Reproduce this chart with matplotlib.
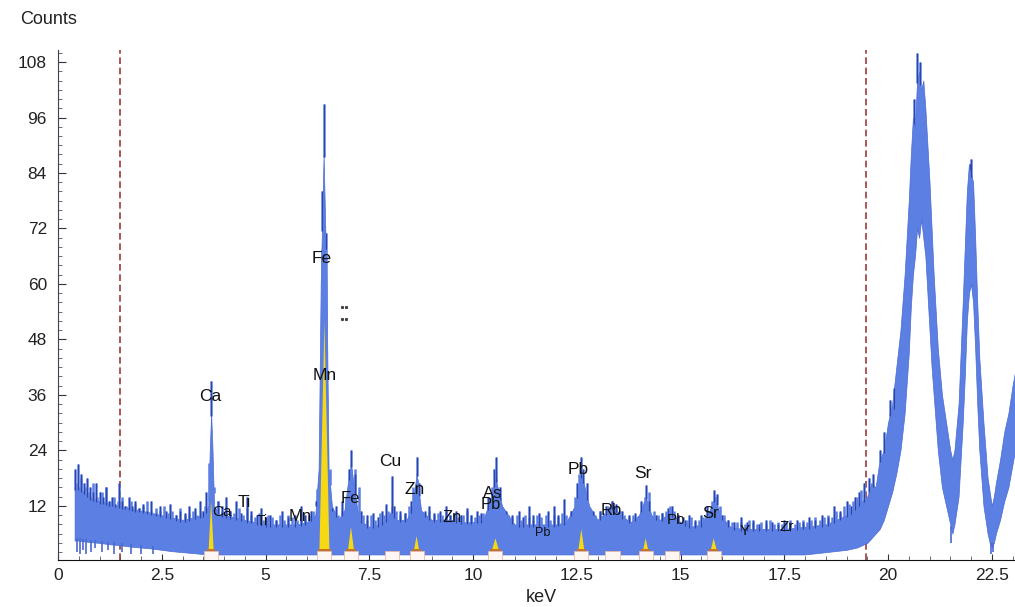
import matplotlib
matplotlib.use("Agg")
import matplotlib.pyplot as plt
import numpy as np
from matplotlib.ticker import MultipleLocator, FuncFormatter

plt.rcParams['font.family'] = ['Liberation Sans', 'DejaVu Sans']

# ---- spectrum band: energy grid with the top and bottom of the noisy trace ----
band_keV = [0.40, 0.50, 0.75, 1.00, 1.25, 1.50, 1.75, 2.00, 2.25, 2.50, 2.75, 3.00, 3.25, 3.50,
            3.62, 3.66, 3.69, 3.72, 3.76, 3.90, 4.00, 4.25, 4.50, 4.75, 5.00, 5.25, 5.50, 5.75,
            6.00, 6.20, 6.28, 6.33, 6.40, 6.47, 6.52, 6.60, 6.75, 6.90, 7.00, 7.06, 7.12, 7.25,
            7.50, 7.75, 7.90, 8.04, 8.15, 8.40, 8.55, 8.64, 8.75, 9.00, 9.25, 9.50, 9.75, 10.00,
            10.25, 10.40, 10.54, 10.70, 11.00, 11.25, 11.50, 11.75, 12.00, 12.25, 12.45, 12.61,
            12.80, 13.00, 13.25, 13.39, 13.55, 13.80, 14.00, 14.16, 14.30, 14.50, 14.76, 15.00,
            15.25, 15.50, 15.70, 15.83, 15.95, 16.20, 16.50, 17.00, 17.50, 18.00, 18.50, 19.00,
            19.25, 19.50, 19.60, 19.70, 19.80, 19.90, 20.00, 20.10, 20.20, 20.30, 20.40, 20.50,
            20.55, 20.60, 20.65, 20.70, 20.75, 20.80, 20.85, 20.90, 20.95, 21.00, 21.05, 21.10,
            21.20, 21.30, 21.40, 21.50, 21.55, 21.60, 21.70, 21.80, 21.85, 21.90, 21.95, 22.00,
            22.05, 22.10, 22.15, 22.20, 22.30, 22.40, 22.45, 22.50, 22.55, 22.60, 22.70, 22.80,
            22.90, 23.00, 23.10]
band_top = [16, 16, 14, 13, 12.5, 12, 11.5, 11, 10.5, 10, 9.5, 9, 9.5, 10,
            12, 25, 32, 25, 12, 10, 10, 9.5, 9, 8.5, 8, 8, 8, 8,
            8.5, 10, 20, 60, 88, 60, 20, 12, 9, 11, 18, 21, 17, 9,
            7.5, 8, 9, 11, 9, 9, 12, 19, 11, 9, 9, 9, 8.5, 8.5,
            9, 13, 18, 12, 8, 8, 8, 8, 8, 8.5, 12, 19,
            12, 9, 11, 12, 10, 8.5, 10, 14, 10, 9, 10.5, 8.5,
            7.5, 8, 11, 14, 10, 7.5, 7, 7, 7, 7.5, 8, 10,
            12, 14, 17, 16, 22, 24, 30, 34, 42, 50, 62, 78,
            88, 96, 94, 104, 106, 102, 104, 98, 90, 82, 72, 62,
            46, 36, 30, 24, 22, 24, 34, 56, 68, 80, 86, 84,
            82, 70, 56, 44, 30, 18, 15, 12, 14, 17, 22, 28,
            32, 38, 43]
band_bottom = [4.5, 4.5, 4.2, 4, 3.7, 3.5, 3.2, 3, 2.8, 2.5, 2.2, 2, 1.8, 1.6,
               1.5, 1.5, 1.5, 1.5, 1.5, 1.5, 1.5, 1.5, 1.5, 1.5, 1.5, 1.5, 1.5, 1.5,
               1.5, 1.5, 1.5, 1.5, 1.5, 1.5, 1.5, 1.5, 1.5, 1.5, 1.5, 1.5, 1.5, 1.5,
               1.5, 1.5, 1.5, 1.5, 1.5, 1.5, 1.5, 1.5, 1.5, 1.5, 1.5, 1.5, 1.5, 1.5,
               1.5, 1.5, 1.5, 1.5, 1.5, 1.5, 1.5, 1.5, 1.5, 1.5, 1.5, 1.5,
               1.5, 1.5, 1.5, 1.5, 1.5, 1.5, 1.5, 1.5, 1.5, 1.5, 1.5, 1.5,
               1.5, 1.5, 1.5, 1.5, 1.5, 1.5, 1.5, 1.5, 1.5, 1.5, 2, 2.5,
               3, 4, 5, 6, 7, 9, 12, 15, 19, 24, 32, 45,
               55, 62, 66, 72, 70, 74, 70, 66, 58, 50, 42, 36,
               24, 16, 12, 8, 6, 8, 14, 30, 40, 52, 58, 60,
               56, 46, 34, 24, 12, 6, 4, 3, 4, 6, 9, 13,
               16, 21, 26]

# ---- channel texture along the top of the band (one value per 0.1 keV from 0.45 keV) ----
texture_start_keV = 0.45
texture_step_keV = 0.1
texture_top = [17, 18, 16, 15, 17, 14, 15, 16, 13, 14,
               13, 14, 12, 13, 12.5, 11.5, 12, 13, 11, 11.5,
               11, 12, 10.5, 11, 10, 11.5, 10, 10.5, 11, 10,
               11, 12, 13, 16, 13, 11, 12, 11, 10.5, 11.5,
               10, 11.5, 10, 9.5, 10.5, 9, 10, 9.5, 9, 10,
               9, 10, 9.5, 9, 10.5, 9, 10, 11, 12, 30,
               30, 20, 11, 10, 11, 12, 15, 20, 16, 10,
               9, 10, 9, 10.5, 10, 11, 12, 11, 10, 10.5,
               12, 16, 14, 11, 10, 11, 10, 10.5, 10, 11,
               10, 10.5, 9.5, 10, 11, 10, 9.5, 10, 10.5, 12,
               16, 18, 14, 11, 10, 9.5, 10, 9, 10, 9.5,
               9, 10, 9.5, 10, 9, 10, 9.5, 10.5, 10, 11,
               14, 19, 16, 13, 11, 10, 11, 10.5, 12, 13,
               12, 11, 10, 9.5, 10, 9.5, 11, 14, 15, 11,
               10, 10.5, 11, 12, 11, 10, 9.5, 9, 9.5, 8.5,
               9, 9.5, 11, 13, 14, 12, 10, 9, 8.5, 8.5,
               8.5, 8, 9, 8.5, 8, 8.5, 8, 9, 8, 8.5,
               8, 8.5, 9, 8, 8.5, 9, 8.5, 9, 9.5, 9,
               9.5, 10, 9.5, 11, 10.5, 12, 12.5, 13, 14, 15.5]

# ---- single-channel spikes rising above the band ----
spike_keV = [0.42, 0.48, 0.55, 0.62, 0.70, 0.78, 0.85, 0.92, 1.00, 1.08, 1.15, 1.22, 1.30, 1.38,
             1.47, 1.55, 1.62, 1.70, 1.78, 1.86, 1.95, 2.05, 2.15, 2.25, 2.35, 2.45, 2.60, 2.70,
             2.85, 2.95, 3.05, 3.15, 3.30, 3.42, 3.50, 3.56, 3.69, 3.85, 3.95, 4.05, 4.15, 4.30,
             4.40, 4.55, 4.65, 4.80, 4.90, 5.00, 5.12, 5.25, 5.40, 5.55, 5.70, 5.85, 5.95, 6.10,
             6.22, 6.36, 6.40, 6.45, 6.60, 6.70, 6.85, 7.00, 7.06, 7.15, 7.30, 7.45, 7.60, 7.70,
             7.80, 7.90, 8.04, 8.10, 8.25, 8.35, 8.50, 8.64, 8.70, 8.85, 8.95, 9.05, 9.20, 9.35,
             9.45, 9.60, 9.70, 9.85, 9.95, 10.10, 10.20, 10.35, 10.50, 10.55, 10.65, 10.80, 10.95,
             11.10, 11.20, 11.35, 11.45, 11.60, 11.80, 11.95, 12.05, 12.20, 12.35, 12.50, 12.60,
             12.65, 12.75, 12.90, 13.05, 13.20, 13.35, 13.45, 13.60, 13.75, 13.90, 14.05, 14.16,
             14.25, 14.40, 14.55, 14.70, 14.80, 14.95, 15.10, 15.20, 15.35, 15.50, 15.65, 15.80,
             15.87, 16.00, 16.15, 16.30, 16.45, 16.60, 16.75, 16.90, 17.05, 17.20, 17.35, 17.50,
             17.65, 17.80, 17.95, 18.10, 18.25, 18.40, 18.55, 18.70, 18.85, 19.00, 19.10, 19.20,
             19.30, 19.42, 19.55, 19.65, 19.80, 19.90, 20.05, 20.15, 20.62, 20.70, 20.78, 21.97,
             22.01]
spike_top = [20, 21, 19, 17, 18, 16, 15, 17, 15, 14, 16, 13, 14, 12.5,
             17, 13, 12, 14, 12, 13, 11.5, 12.5, 11, 13, 10.5, 12, 11, 12.5,
             10, 11, 10.5, 12, 11.5, 13, 11, 15, 39, 13, 12, 14, 11, 13,
             10.5, 14, 11, 10, 11.5, 9.5, 10, 9, 11, 9.5, 10, 12, 10, 11,
             13, 80, 99, 71, 11, 12, 13, 20, 24, 19, 11, 10, 10.5, 9.5,
             11, 12.5, 18.5, 12, 11, 10.5, 13, 22.5, 17, 11, 12, 10.5, 11, 12,
             10, 11, 10, 11.5, 10, 11, 10.5, 14, 20, 22.5, 16, 11, 10,
             11, 9.5, 12, 10, 10.5, 11, 12, 10, 13.5, 11, 17, 22.5,
             20, 17, 11, 11, 12, 13, 12.5, 11, 10, 10.5, 13, 16.5,
             13, 10, 10.5, 11.5, 12, 10, 9, 10, 9, 10, 12, 15.5,
             14.5, 10, 9, 8.5, 9.5, 8.5, 9, 8, 9, 8.5, 8, 9,
             8.5, 9, 8.5, 9.5, 9, 10, 9.5, 12, 11, 13, 12, 14,
             15, 17, 18, 19, 24, 28, 35, 33, 100, 110, 108, 86,
             87]

# ---- single-channel dips falling below the band ----
dip_keV = [0.45, 0.52, 0.60, 0.68, 0.80, 0.90, 1.05, 1.20, 1.35, 1.55, 1.75, 2.00, 2.30, 21.52,
           22.48, 22.52]
dip_bottom = [2, 1.5, 2.5, 1.5, 2, 3, 2, 2.5, 1.5, 2, 1.5, 1.5, 1.5, 4, 1.5, 2]

# ---- fitted line areas (yellow) : centre, apex counts, base half-width ----
fit_keV = [3.69, 6.42, 7.06, 8.64, 10.54, 12.61, 14.16, 15.80]
fit_counts = [13, 52, 7.5, 5.5, 5, 7, 5, 5]
fit_halfwidth = [0.06, 0.12, 0.07, 0.06, 0.08, 0.07, 0.06, 0.07]

# small markers under the identified lines
marker_keV = [3.69, 6.42, 7.06, 8.04, 8.64, 10.54, 12.61, 13.36, 14.16, 14.80, 15.80]

# ---- element labels ----
label_text = ['Ca', 'Ca', 'Ti', 'Ti', 'Mn', 'Fe', 'Mn', 'Fe', 'Cu', 'Zn', 'Zn', 'As', 'Pb',
              'Pb', 'Pb', 'Rb', 'Sr', 'Pb', 'Sr', 'Y', 'Zr']
label_keV = [3.66, 3.95, 4.48, 4.92, 5.83, 6.36, 6.43, 7.04, 8.00, 8.60, 9.49, 10.48, 10.43,
             11.68, 12.53, 13.33, 14.10, 14.89, 15.73, 16.55, 17.57]
label_counts = [35.6, 10.7, 12.8, 8.8, 9.6, 65.6, 40.3, 13.7, 21.5, 15.5, 9.4, 14.6, 12.2,
                6.2, 19.8, 11.1, 19.1, 9.0, 10.3, 6.6, 7.5]
label_size = [12.5, 11, 12, 10, 12, 12.5, 12.5, 12, 12.5, 12.5, 12, 12, 12,
              9, 12.5, 12, 12.5, 11, 12, 11, 11]

x_ticks = [0, 2.5, 5, 7.5, 10, 12.5, 15, 17.5, 20, 22.5]
y_ticks = [12, 24, 36, 48, 60, 72, 84, 96, 108]
roi_keV = [1.5, 19.48]

BLUE = '#5b7fe2'
EDGE = '#4a6ad3'
DARK = '#2f45a6'

fig = plt.figure(figsize=(10.15, 6.07), dpi=100)
ax = fig.add_axes([58 / 1015, 47 / 607, 957 / 1015, 510 / 607])

ax.fill_between(band_keV, band_bottom, band_top, color=BLUE, lw=0.5,
                edgecolor=EDGE, zorder=2)

texture_keV = texture_start_keV + texture_step_keV * np.arange(len(texture_top))
texture_base = np.interp(texture_keV, band_keV, band_top) - 0.5
ax.vlines(texture_keV, texture_base, texture_top, color=BLUE, lw=1.8, zorder=2)

spike_base = np.interp(spike_keV, band_keV, band_top) - 0.5
ax.vlines(spike_keV, spike_base, spike_top, color=BLUE, lw=1.8, zorder=3)
ax.vlines(spike_keV, spike_base, spike_top, color=DARK, lw=0.8, zorder=3)
dip_base = np.interp(dip_keV, band_keV, band_bottom) + 0.5
ax.vlines(dip_keV, dip_bottom, dip_base, color=EDGE, lw=1.2, zorder=3)

# yellow fitted line areas with their base bars
for c, h, w in zip(fit_keV, fit_counts, fit_halfwidth):
    ax.fill([c - w, c, c + w], [2.5, h, 2.5], color='#f6d814', lw=0, zorder=4)
    ax.plot([c - w - 0.02, c + w + 0.02], [2.5, 2.5], color='#c8741e', lw=1.4, zorder=5)
for c in marker_keV:
    ax.fill([c - 0.17, c + 0.17, c + 0.17, c - 0.17], [0.4, 0.4, 2.3, 2.3],
            color='#fdf6f2', lw=0.6, edgecolor='#e8b9a8', zorder=4)

for x in roi_keV:
    ax.axvline(x, color='#9a3b3b', lw=1.2, ls=(0, (4, 2.2)), zorder=1)

for t, x, y, s in zip(label_text, label_keV, label_counts, label_size):
    ax.text(x, y, t, fontsize=s, ha='center', va='center', color='#111111', zorder=6)
ax.plot([6.85, 6.95, 6.85, 6.95], [55.0, 55.0, 52.4, 52.4], ls='none', marker='s',
        ms=1.2, color='#444444', zorder=6)

ax.set_xlim(0, 23.06)
ax.set_ylim(0.3, 110.6)
ax.set_xticks(x_ticks)
ax.xaxis.set_major_formatter(FuncFormatter(lambda v, p: f'{v:g}'))
ax.xaxis.set_minor_locator(MultipleLocator(0.5))
ax.set_yticks(y_ticks)
ax.yaxis.set_minor_locator(MultipleLocator(2))
ax.tick_params(axis='both', which='major', direction='in', labelsize=12.5,
               labelcolor='#222222', color='#333333')
ax.tick_params(axis='x', which='major', length=4, pad=6)
ax.tick_params(axis='x', which='minor', direction='in', length=3, color='#555555')
ax.tick_params(axis='y', which='major', length=6, pad=8)
ax.tick_params(axis='y', which='minor', direction='in', length=3, color='#555555')

for side in ('top', 'right'):
    ax.spines[side].set_visible(False)
ax.spines['left'].set_color('#3a3f5a')
ax.spines['bottom'].set_color('#111111')

fig.text(20 / 1015, 1 - 20 / 607, 'Counts', fontsize=13, ha='left', va='center', color='#222222')
fig.text(541 / 1015, 1 - 597 / 607, 'keV', fontsize=13, ha='center', va='center', color='#222222')

fig.savefig('out.png', dpi=100)
